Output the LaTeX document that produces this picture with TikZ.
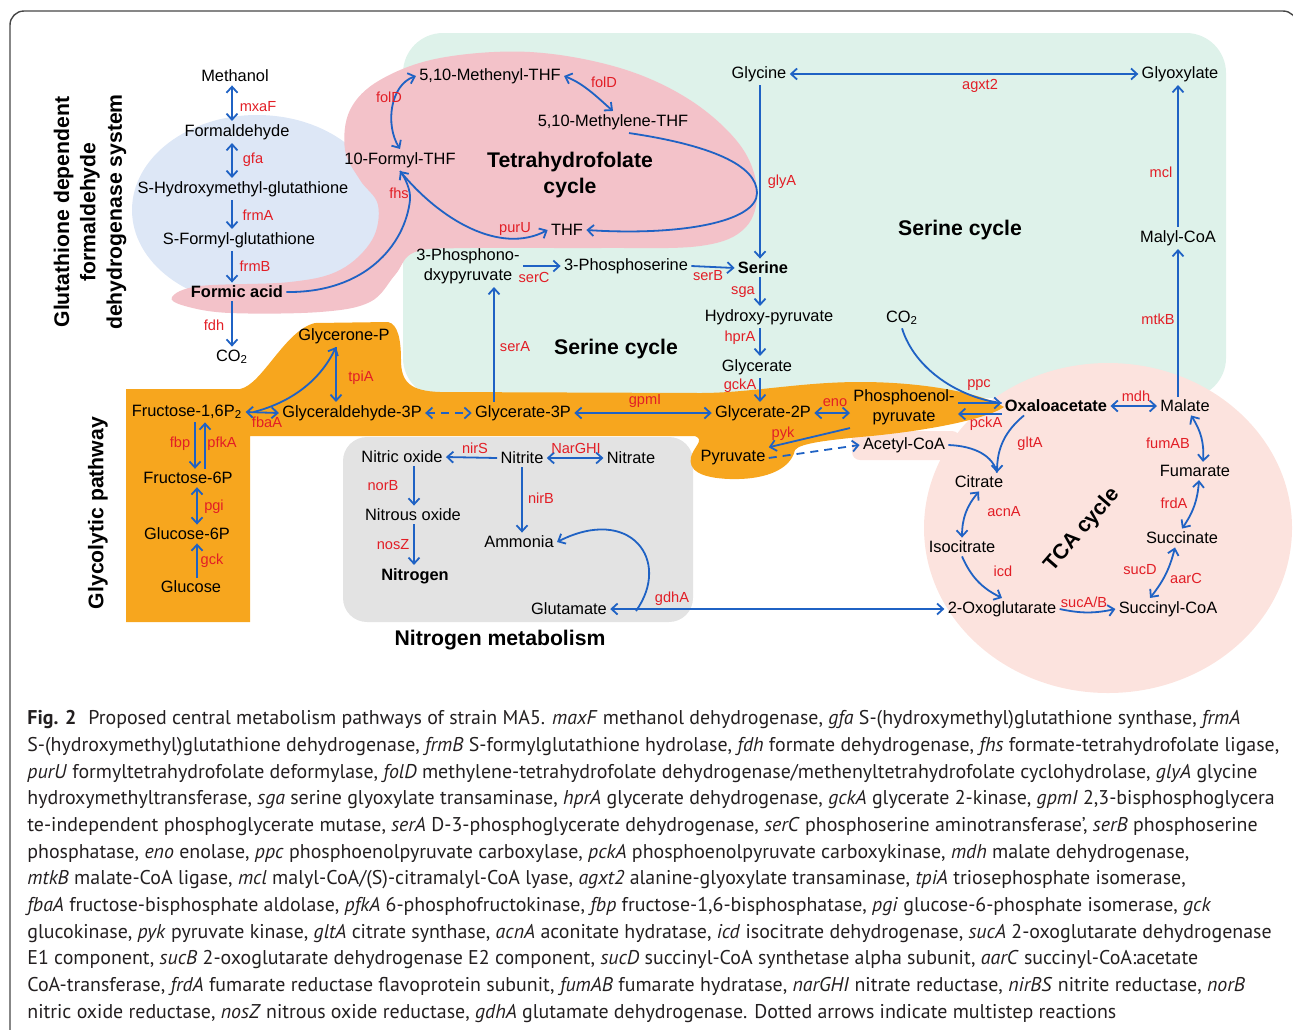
\documentclass[tikz,border=0pt]{standalone}
\usepackage{fontspec}
\setmainfont{Liberation Sans}
\newfontfamily\capfont{PT Sans}
\usetikzlibrary{arrows.meta}

\definecolor{arrowblue}{RGB}{31,98,196}
\definecolor{enzred}{RGB}{226,30,38}
\definecolor{gshblue}{RGB}{221,231,246}
\definecolor{thfpink}{RGB}{243,194,201}
\definecolor{sermint}{RGB}{222,242,234}
\definecolor{glyorange}{RGB}{247,166,30}
\definecolor{nitgray}{RGB}{227,227,227}
\definecolor{tcasalmon}{RGB}{252,227,222}
\definecolor{framegray}{RGB}{70,70,70}
\definecolor{captext}{RGB}{35,31,32}

\newcommand\metfont{\fontsize{8.2}{10}\selectfont}
\newcommand\enzfont{\fontsize{7.3}{8.5}\selectfont}
\newcommand\titfont{\fontsize{10.6}{13.2}\selectfont\bfseries}

\tikzset{
  met/.style={font=\metfont, inner sep=1.5pt},
  bmet/.style={font=\metfont\bfseries, inner sep=1.5pt},
  enz/.style={font=\enzfont, text=enzred, inner sep=0pt},
  tit/.style={font=\titfont, align=center, inner sep=0pt},
  rxn/.style={draw=arrowblue, line width=0.9pt},
  multi/.style={dash pattern=on 4pt off 3pt},
}

\begin{document}
\begin{tikzpicture}[x=0.5pt, y=-0.5pt, >={Straight Barb[length=3pt,width=5.5pt]}]
\useasboundingbox (0,0) rectangle (1293,1029);

% frame
\draw[framegray, line width=0.7pt, rounded corners=7pt] (10,1045) -- (10,11) -- (1297,11) -- (1297,1045);

% coloured areas
\fill[sermint, rounded corners=20pt] (403,33) rectangle (1226,398);
\fill[gshblue] (257,210) ellipse [x radius=125, y radius=95];
\fill[thfpink] plot[smooth cycle, tension=0.6] coordinates {(172,297) (200,286) (290,282) (340,270) (372,240) (378,205)
  (360,180) (345,150) (350,110) (380,80) (440,58) (530,52) (620,68) (690,100) (740,145) (757,190) (745,228)
  (700,246) (600,248) (470,248) (415,252) (395,275) (370,302) (320,312) (230,313) (185,306)};
\fill[nitgray, rounded corners=12pt] (343,437) rectangle (693,622);
\fill[tcasalmon] (1108,528) ellipse [x radius=184, y radius=165];
\fill[tcasalmon, rounded corners=4pt] (852,431) rectangle (960,460);
\fill[glyorange] (126,622) -- (126,389) -- (240,389) .. controls (262,385) and (285,330) .. (315,323) -- (388,322)
  .. controls (398,324) and (401,340) .. (401,360) .. controls (401,382) and (410,391) .. (440,392) -- (700,393)
  .. controls (750,393) and (800,382) .. (860,382) .. controls (930,382) and (985,395) .. (1004,407)
  .. controls (985,420) and (920,432) .. (860,437) .. controls (830,440) and (800,443) .. (795,450)
  .. controls (790,472) and (760,480) .. (730,479) .. controls (700,478) and (688,470) .. (691,457)
  .. controls (694,446) and (705,440) .. (695,436) -- (250,436) -- (250,622) -- cycle;

% titles
\node[tit, rotate=90] (gshtitle) at (90,212) {Glutathione dependent\\formaldehyde\\dehydrogenase system};
\node[tit, rotate=90] (glytitle) at (98,513) {Glycolytic pathway};
\node[tit] (thftitle) at (570,175) {Tetrahydrofolate\\cycle};
\node[tit] (sertitle) at (960,230) {Serine cycle};
\node[tit] (sertitlelow) at (616,349) {Serine cycle};
\node[tit] (nittitle) at (500,640) {Nitrogen metabolism};
\node[tit, rotate=49] (tcatitle) at (1082,530) {TCA cycle};

% glutathione system
\node[met] (meth) at (235,76) {Methanol};
\node[met] (form) at (237,132) {Formaldehyde};
\node[met] (hmg) at (243,189) {S-Hydroxymethyl-glutathione};
\node[met] (fg) at (239,240) {S-Formyl-glutathione};
\node[bmet] (formic) at (237,292) {Formic acid};
\node[met] (co2a) at (232,357) {CO\textsubscript{2}};
\coordinate (gshcol) at (232,0);
\draw[rxn,<->] (meth.south -| gshcol) -- (form.north -| gshcol);
\draw[rxn,<->] (form.south -| gshcol) -- (hmg.north -| gshcol);
\draw[rxn,->] (hmg.south -| gshcol) -- (fg.north -| gshcol);
\draw[rxn,->] (fg.south -| gshcol) -- (formic.north -| gshcol);
\draw[rxn,->] (formic.south -| gshcol) -- (co2a.north -| gshcol);
\node[enz] (e-mxaF) at (258,107) {mxaF};
\node[enz] (e-gfa) at (253,160) {gfa};
\node[enz] (e-frmA) at (258,215) {frmA};
\node[enz] (e-frmB) at (255,266) {frmB};
\node[enz] (e-fdh) at (214,325) {fdh};

% tetrahydrofolate cycle
\node[met] (fthf) at (400,160) {10-Formyl-THF};
\node[met] (menthf) at (490,76) {5,10-Methenyl-THF};
\node[met] (mlthf) at (613,122) {5,10-Methylene-THF};
\node[met] (thf) at (567,230) {THF};
\draw[rxn,->] (formic.east) .. controls (365,293) and (405,245) .. (410,200) .. controls (411,190) and (405,178) .. (fthf.south);
\draw[rxn,->] (fthf.south) .. controls (440,220) and (500,255) .. (thf.west);
\draw[rxn,<->] (fthf.north) .. controls (385,125) and (390,85) .. (menthf.west);
\draw[rxn,<->] (menthf.east) .. controls (585,84) and (600,100) .. (mlthf.north);
\draw[rxn,->] ([xshift=8pt]mlthf.south) .. controls (710,145) and (757,165) .. (757,193) .. controls (757,222) and (680,236) .. (thf.east);
\node[enz] (e-folDa) at (389,97) {folD};
\node[enz] (e-folDb) at (604,82) {folD};
\node[enz] (e-fhs) at (399,193) {fhs};
\node[enz] (e-purU) at (515,229) {purU};
\node[enz] (e-glyA) at (782,182) {glyA};

% serine cycle
\node[met] (gly) at (759,74) {Glycine};
\node[met] (glx) at (1180,74) {Glyoxylate};
\node[met] (mcoa) at (1178,238) {Malyl-CoA};
\node[bmet] (ser) at (763,268) {Serine};
\node[met] (pser) at (626,266) {3-Phosphoserine};
\node[met, align=center] (php) at (468,266) {3-Phosphono-\\dxypyruvate};
\node[met] (hpyr) at (769,317) {Hydroxy-pyruvate};
\node[met] (glyc) at (757,367) {Glycerate};
\node[met] (co2b) at (902,318) {CO\textsubscript{2}};
\coordinate (sercol) at (760,0);
\coordinate (seracol) at (494,0);
\coordinate (mcol) at (1178,0);
\draw[rxn,<->] (gly.east) -- (glx.west);
\draw[rxn,->] (gly.south -| sercol) -- (ser.north -| sercol);
\draw[rxn,->] (php.east) -- (pser.west);
\draw[rxn,->] (pser.east) -- (ser.west);
\draw[rxn,->] (ser.south -| sercol) -- (hpyr.north -| sercol);
\draw[rxn,->] (hpyr.south -| sercol) -- (glyc.north -| sercol);
\node[enz] (e-agxt2) at (980,86) {agxt2};
\node[enz] (e-mcl) at (1161,172) {mcl};
\node[enz] (e-mtkB) at (1158,319) {mtkB};
\node[enz] (e-serC) at (534,277) {serC};
\node[enz] (e-serB) at (708,276) {serB};
\node[enz] (e-sga) at (743,292) {sga};
\node[enz] (e-hprA) at (740,338) {hprA};
\node[enz] (e-gckA) at (740,386) {gckA};
\node[enz] (e-serA) at (515,347) {serA};

% glycolysis
\node[met] (fbp) at (187,412) {Fructose-1,6P\textsubscript{2}};
\node[met] (gap) at (352,413) {Glyceraldehyde-3P};
\node[met] (dhap) at (344,336) {Glycerone-P};
\node[met] (g3p) at (523,413) {Glycerate-3P};
\node[met] (g2p) at (763,413) {Glycerate-2P};
\node[met, align=center] (pep) at (904,407) {Phosphoenol-\\pyruvate};
\node[met] (pyr) at (733,458) {Pyruvate};
\node[met] (f6p) at (188,478) {Fructose-6P};
\node[met] (g6p) at (187,534) {Glucose-6P};
\node[met] (glc) at (191,587) {Glucose};
\coordinate (tpicol) at (336,0);
\coordinate (fbpcol) at (195,0);
\coordinate (pfkcol) at (205,0);
\coordinate (glccol) at (197,0);
\draw[rxn,->] (glyc.south -| sercol) -- (g2p.north -| sercol);
\draw[rxn,->] (g3p.north -| seracol) -- (php.south -| seracol);
\draw[rxn,<->] (fbp.east) -- (gap.west);
\draw[rxn,->] ([xshift=4pt]fbp.east) .. controls (285,404) and (318,385) .. (dhap.south -| tpicol);
\draw[rxn,->] (dhap.south -| tpicol) -- (gap.north -| tpicol);
\draw[rxn,<->,multi] (gap.east) -- (g3p.west);
\draw[rxn,<->] (g3p.east) -- (g2p.west);
\draw[rxn,<->] (g2p.east) -- (g2p.east -| pep.west);
\draw[rxn,->] (pep.south west) -- (pyr.north east);
\draw[rxn,->] (fbp.south -| fbpcol) -- (f6p.north -| fbpcol);
\draw[rxn,->] (f6p.north -| pfkcol) -- (fbp.south -| pfkcol);
\draw[rxn,<->] (f6p.south -| glccol) -- (g6p.north -| glccol);
\draw[rxn,->] (glc.north -| glccol) -- (g6p.south -| glccol);
\node[enz] (e-fbaA) at (267,422) {fbaA};
\node[enz] (e-tpiA) at (361,378) {tpiA};
\node[enz] (e-gpmI) at (645,401) {gpmI};
\node[enz] (e-eno) at (835,403) {eno};
\node[enz] (e-pyk) at (783,434) {pyk};
\node[enz] (e-fbp) at (180,444) {fbp};
\node[enz] (e-pfkA) at (222,444) {pfkA};
\node[enz] (e-pgi) at (214,507) {pgi};
\node[enz] (e-gck) at (212,561) {gck};

% TCA cycle
\node[bmet] (oaa) at (1056,406) {Oxaloacetate};
\node[met] (mal) at (1185,406) {Malate};
\node[met] (fum) at (1195,471) {Fumarate};
\node[met] (succ) at (1182,538) {Succinate};
\node[met] (sucoa) at (1168,609) {Succinyl-CoA};
\node[met] (akg) at (1002,609) {2-Oxoglutarate};
\node[met] (icit) at (962,547) {Isocitrate};
\node[met] (cit) at (979,482) {Citrate};
\node[met] (accoa) at (904,445) {Acetyl-CoA};
\coordinate (ppcrow) at (0,403);
\coordinate (pckrow) at (0,414);
\draw[rxn,->] (pep.east |- ppcrow) -- (oaa.west |- ppcrow);
\draw[rxn] (co2b.south) .. controls (915,370) and (960,398) .. (oaa.west |- ppcrow);
\draw[rxn,->] (oaa.west |- pckrow) -- (pep.east |- pckrow);
\draw[rxn,<->] (oaa.east) -- (mal.west);
\draw[rxn,->] (mal.north -| mcol) -- (mcoa.south -| mcol);
\draw[rxn,->] (mcoa.north -| mcol) -- (glx.south -| mcol);
\draw[rxn,<->] ([xshift=3pt]mal.south) to[bend left=18] ([xshift=4pt]fum.north);
\draw[rxn,<->] ([xshift=2pt]fum.south) to[bend left=15] (succ.north);
\draw[rxn,<->] ([xshift=-3.5pt]succ.south) to[bend left=12] ([xshift=-9pt]sucoa.north);
\draw[rxn,->] (akg.east) to[bend right=12] (sucoa.west);
\draw[rxn,->] (icit.south) to[bend right=20] (akg.north);
\draw[rxn,<->] (cit.south) to[bend right=20] (icit.north);
\draw[rxn,->] ([xshift=-16pt]oaa.south) to[bend right=25] ([xshift=9pt]cit.north);
\draw[rxn] (accoa.east) .. controls (975,446) and (993,456) .. ([xshift=9pt]cit.north);
\draw[rxn,->,multi] (pyr.east) -- (accoa.west);
\node[enz] (e-ppc) at (979,385) {ppc};
\node[enz] (e-pckA) at (986,424) {pckA};
\node[enz] (e-mdh) at (1136,396) {mdh};
\node[enz] (e-gltA) at (1030,444) {gltA};
\node[enz] (e-fumAB) at (1168,443) {fumAB};
\node[enz] (e-frdA) at (1174,503) {frdA};
\node[enz] (e-acnA) at (1004,512) {acnA};
\node[enz] (e-icd) at (1003,571) {icd};
\node[enz] (e-sucD) at (1140,570) {sucD};
\node[enz] (e-aarC) at (1186,578) {aarC};
\node[enz] (e-sucAB) at (1084,602) {sucA/B};

% nitrogen metabolism
\node[met] (no) at (402,457) {Nitric oxide};
\node[met] (nit) at (522,458) {Nitrite};
\node[met] (nat) at (631,458) {Nitrate};
\node[met] (n2o) at (413,515) {Nitrous oxide};
\node[bmet] (n2) at (415,576) {Nitrogen};
\node[met] (nh3) at (519,542) {Ammonia};
\node[met] (glu) at (569,609) {Glutamate};
\coordinate (nocol) at (414,0);
\coordinate (nitcol) at (522,0);
\coordinate (gdhfork) at (636,611);
\draw[rxn,->] (nit.west) -- (no.east);
\draw[rxn,<->] (nit.east) -- (nat.west);
\draw[rxn,->] (no.south -| nocol) -- (n2o.north -| nocol);
\draw[rxn,->] (n2o.south -| nocol) -- (n2.north -| nocol);
\draw[rxn,->] (nit.south -| nitcol) -- (nh3.north -| nitcol);
\draw[rxn,<->] (glu.east) -- (akg.west);
\draw[rxn,->] (gdhfork) .. controls (672,560) and (630,505) .. (nh3.east);
\node[enz] (e-nirS) at (475,448) {nirS};
\node[enz] (e-NarGHI) at (576,448) {NarGHI};
\node[enz] (e-norB) at (383,486) {norB};
\node[enz] (e-nosZ) at (393,545) {nosZ};
\node[enz] (e-nirB) at (541,498) {nirB};
\node[enz] (e-gdhA) at (672,599) {gdhA};

% caption
\node[anchor=north west, inner sep=0pt, align=left, text=captext, font=\capfont\fontsize{9.95}{13.35}\selectfont] (caption) at (27,710) {%
\textbf{Fig. 2}\hspace{6pt}Proposed central metabolism pathways of strain MA5. \textit{maxF} methanol dehydrogenase, \textit{gfa} S-(hydroxymethyl)glutathione synthase, \textit{frmA}\\
S-(hydroxymethyl)glutathione dehydrogenase, \textit{frmB} S-formylglutathione hydrolase, \textit{fdh} formate dehydrogenase, \textit{fhs} formate-tetrahydrofolate ligase,\\
\textit{purU} formyltetrahydrofolate deformylase, \textit{folD} methylene-tetrahydrofolate dehydrogenase/methenyltetrahydrofolate cyclohydrolase, \textit{glyA} glycine\\
hydroxymethyltransferase, \textit{sga} serine glyoxylate transaminase, \textit{hprA} glycerate dehydrogenase, \textit{gckA} glycerate 2-kinase, \textit{gpmI} 2,3-bisphosphoglycera\\
te-independent phosphoglycerate mutase, \textit{serA} D-3-phosphoglycerate dehydrogenase, \textit{serC} phosphoserine aminotransferase’, \textit{serB} phosphoserine\\
phosphatase, \textit{eno} enolase, \textit{ppc} phosphoenolpyruvate carboxylase, \textit{pckA} phosphoenolpyruvate carboxykinase, \textit{mdh} malate dehydrogenase,\\
\textit{mtkB} malate-CoA ligase, \textit{mcl} malyl-CoA/(S)-citramalyl-CoA lyase, \textit{agxt2} alanine-glyoxylate transaminase, \textit{tpiA} triosephosphate isomerase,\\
\textit{fbaA} fructose-bisphosphate aldolase, \textit{pfkA} 6-phosphofructokinase, \textit{fbp} fructose-1,6-bisphosphatase, \textit{pgi} glucose-6-phosphate isomerase, \textit{gck}\\
glucokinase, \textit{pyk} pyruvate kinase, \textit{gltA} citrate synthase, \textit{acnA} aconitate hydratase, \textit{icd} isocitrate dehydrogenase, \textit{sucA} 2-oxoglutarate dehydrogenase\\
E1 component, \textit{sucB} 2-oxoglutarate dehydrogenase E2 component, \textit{sucD} succinyl-CoA synthetase alpha subunit, \textit{aarC} succinyl-CoA:acetate\\
CoA-transferase, \textit{frdA} fumarate reductase flavoprotein subunit, \textit{fumAB} fumarate hydratase, \textit{narGHI} nitrate reductase, \textit{nirBS} nitrite reductase, \textit{norB}\\
nitric oxide reductase, \textit{nosZ} nitrous oxide reductase, \textit{gdhA} glutamate dehydrogenase. Dotted arrows indicate multistep reactions};
\end{tikzpicture}
\end{document}
